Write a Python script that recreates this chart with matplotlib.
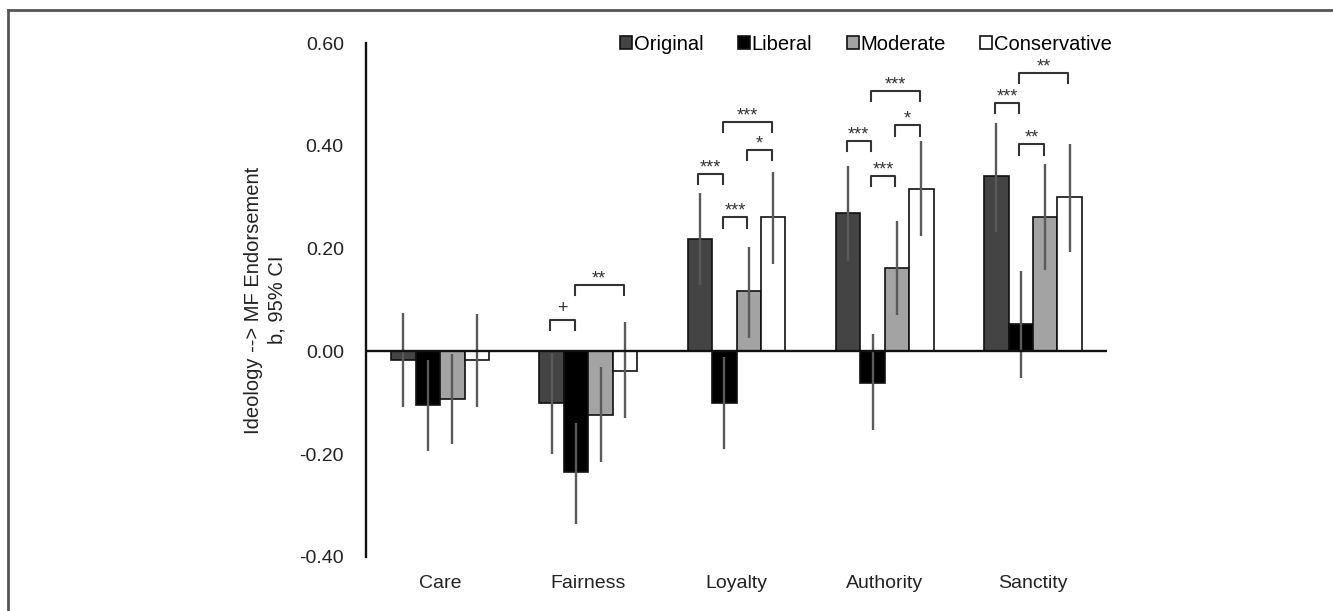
import numpy as np
import matplotlib.pyplot as plt
from matplotlib.lines import Line2D

plt.rcParams['font.family'] = ['Liberation Sans', 'DejaVu Sans']

categories = ['Care', 'Fairness', 'Loyalty', 'Authority', 'Sanctity']
series = ['Original', 'Liberal', 'Moderate', 'Conservative']

# b estimates per group
original = [-0.016, -0.101, 0.218, 0.269, 0.341]
liberal = [-0.105, -0.235, -0.101, -0.062, 0.053]
moderate = [-0.093, -0.123, 0.117, 0.162, 0.261]
conservative = [-0.017, -0.039, 0.261, 0.316, 0.300]

# 95% CI bounds
orig_lo = [-0.109, -0.199, 0.130, 0.175, 0.232]
orig_hi = [0.074, -0.003, 0.308, 0.361, 0.445]
lib_lo = [-0.193, -0.335, -0.190, -0.152, -0.052]
lib_hi = [-0.017, -0.140, -0.010, 0.033, 0.156]
mod_lo = [-0.181, -0.216, 0.027, 0.070, 0.158]
mod_hi = [-0.005, -0.030, 0.203, 0.253, 0.364]
cons_lo = [-0.109, -0.130, 0.171, 0.224, 0.193]
cons_hi = [0.072, 0.057, 0.349, 0.410, 0.403]

# significance brackets: (category, bar a, bar b, height, label)
brackets = [
    (1, 0, 1, 0.062, '+'), (1, 1, 3, 0.129, '**'),
    (2, 0, 1, 0.345, '***'), (2, 1, 2, 0.261, '***'), (2, 2, 3, 0.392, '*'), (2, 1, 3, 0.446, '***'),
    (3, 0, 1, 0.410, '***'), (3, 1, 2, 0.341, '***'), (3, 2, 3, 0.440, '*'), (3, 1, 3, 0.507, '***'),
    (4, 0, 1, 0.483, '***'), (4, 1, 2, 0.403, '**'), (4, 1, 3, 0.542, '**'),
]

values = [original, liberal, moderate, conservative]
lows = [orig_lo, lib_lo, mod_lo, cons_lo]
highs = [orig_hi, lib_hi, mod_hi, cons_hi]
colors = ['#444444', '#000000', '#a3a3a3', '#ffffff']

fig = plt.figure(figsize=(13.33, 6.11), dpi=100)
ax = fig.add_axes([0.2746, 0.0884, 0.5559, 0.8412])

x = np.arange(len(categories))
w = 0.165
for k, (vals, lo, hi, c) in enumerate(zip(values, lows, highs, colors)):
    pos = x + (k - 1.5) * w
    ax.bar(pos, vals, width=w, color=c, edgecolor='#111111', linewidth=1.2, label=series[k], zorder=2)
    ax.vlines(pos, lo, hi, color='#5a5a5a', linewidth=1.7, zorder=3)

ax.axhline(0, color='#111111', linewidth=1.7, zorder=4)

# brackets
leg = 0.02
for cat, a, b, y, lab in brackets:
    xa = cat + (a - 1.5) * w - 0.01
    xb = cat + (b - 1.5) * w - 0.01
    ax.plot([xa, xa, xb, xb], [y - leg, y, y, y - leg], color='#333333', linewidth=1.5,
            solid_joinstyle='round', zorder=5)
    off = 0.012 if lab == '+' else 0.003
    ax.text((xa + xb) / 2, y + off, lab, ha='center', va='baseline', fontsize=13, color='#333333')

ax.set_xlim(-0.5, 4.5)
ax.set_ylim(-0.4, 0.6)
ax.set_yticks([-0.4, -0.2, 0.0, 0.2, 0.4, 0.6])
ax.set_yticklabels(['-0.40', '-0.20', '0.00', '0.20', '0.40', '0.60'])
ax.set_xticks(x)
ax.set_xticklabels(categories)
ax.tick_params(axis='y', length=0, pad=16, labelsize=14, labelcolor='#222222')
ax.tick_params(axis='x', length=0, pad=13, labelsize=14, labelcolor='#222222')
for s in ['top', 'right', 'bottom']:
    ax.spines[s].set_visible(False)
ax.spines['left'].set_linewidth(1.7)
ax.spines['left'].set_color('#111111')

ax.set_ylabel('Ideology --> MF Endorsement\nb, 95% CI', fontsize=14.5, color='#222222', labelpad=9,
              linespacing=1.3)

ax.legend(loc='center', bbox_to_anchor=(866 / 1333, 1 - 44 / 611), bbox_transform=fig.transFigure,
          ncol=4, frameon=False, fontsize=14.5, handlelength=0.6, handleheight=0.6,
          handletextpad=0.1, columnspacing=1.7, borderaxespad=0)

# outer frame lines (top and left only)
fig.add_artist(Line2D([8 / 1333, 1], [1 - 10 / 611, 1 - 10 / 611], transform=fig.transFigure,
                      color='#555555', linewidth=2))
fig.add_artist(Line2D([8 / 1333, 8 / 1333], [0, 1 - 10 / 611], transform=fig.transFigure,
                      color='#555555', linewidth=2))

fig.savefig('out.png', dpi=100)
